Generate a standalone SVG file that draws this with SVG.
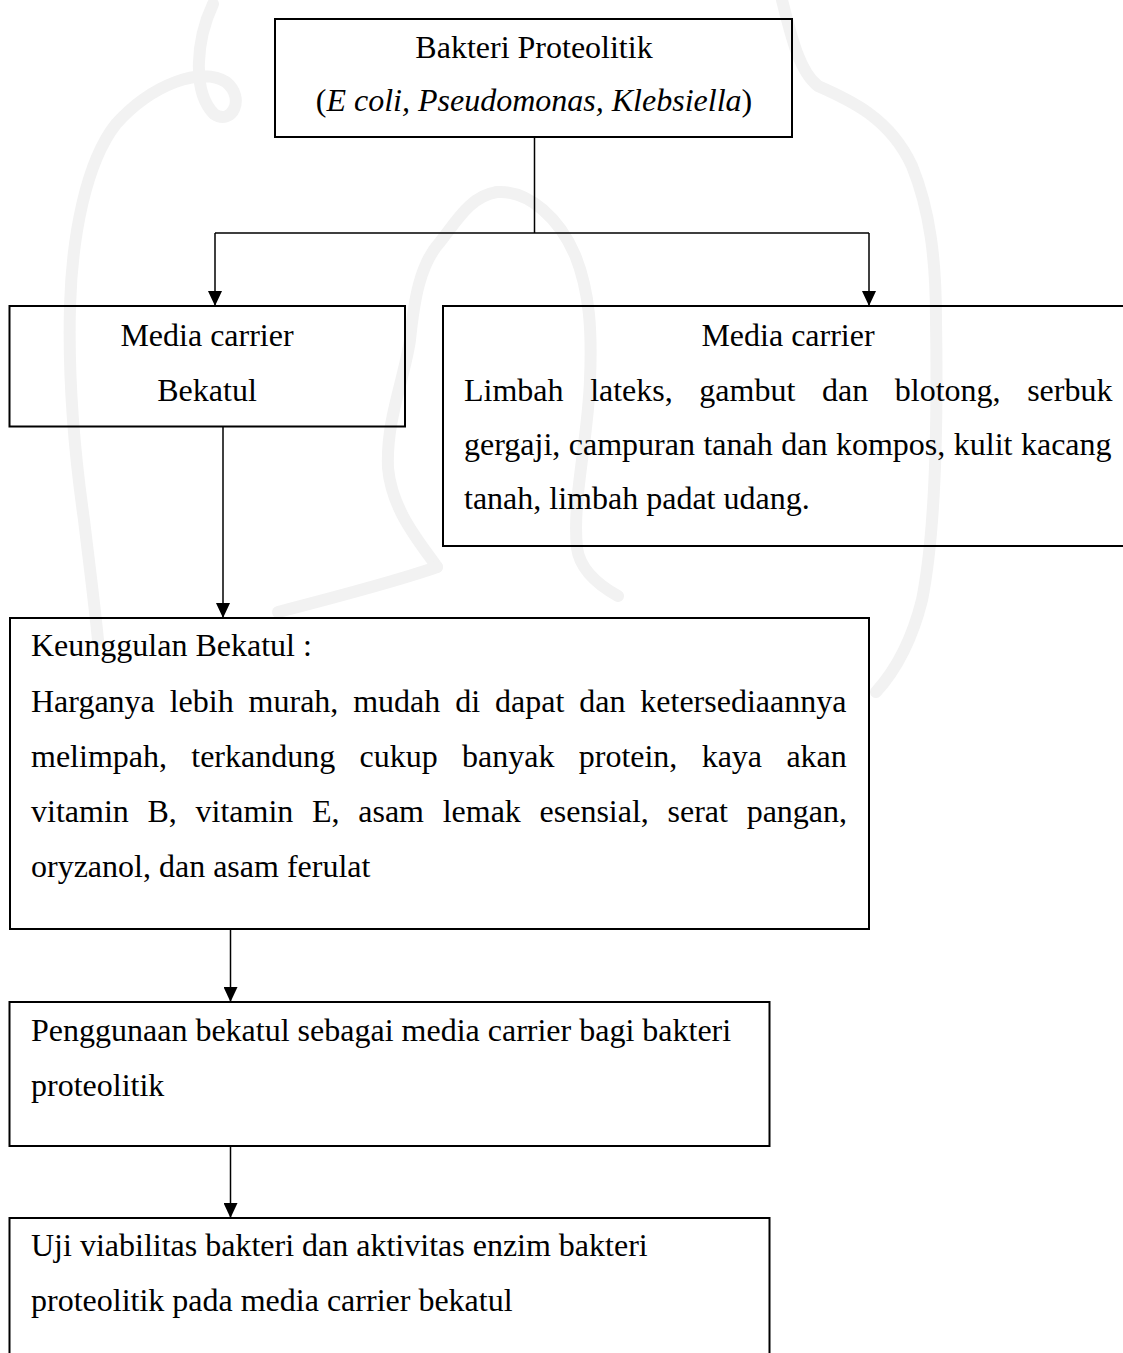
<svg xmlns="http://www.w3.org/2000/svg" width="1123" height="1353" viewBox="0 0 1123 1353">
  <defs>
    <marker id="arrow" viewBox="0 0 14 15" refX="7" refY="15" markerWidth="14" markerHeight="15" markerUnits="userSpaceOnUse" orient="0">
      <path d="M0,0 L14,0 L7,15 Z" fill="#000"/>
    </marker>
    <style>
      .box { fill: none; stroke: #000; stroke-width: 2; }
      .link { fill: none; stroke: #000; stroke-width: 1.5; }
      .txt { font-family: "Liberation Serif", "Times New Roman", serif; font-size: 32px; fill: #000; }
      .mid { text-anchor: middle; }
      .wm { fill: none; stroke: #f2f2f2; stroke-width: 12; stroke-linecap: round; stroke-linejoin: round; }
    </style>
  </defs>

  <rect width="1123" height="1353" fill="#fff"/>

  <!-- faint background emblem -->
  <g id="watermark">
    <!-- outer outline, left side with its top curl -->
    <path class="wm" d="M213 4 C196 40 192 92 214 114 C232 126 246 98 226 82 C202 66 152 84 116 124 C86 162 72 236 70 306 C68 380 74 450 84 520 C90 570 94 600 98 640"/>
    <!-- outer outline, right side -->
    <path class="wm" d="M782 0 C792 40 800 72 818 86 C850 100 890 118 912 166 C930 210 936 260 936 320 C938 440 934 540 922 600 C912 640 896 670 876 692"/>
    <!-- inner figure -->
    <path class="wm" d="M497 192 C470 196 456 222 440 242 C420 264 414 300 410 340 C404 380 386 420 388 468 C392 510 418 540 437 567"/>
    <path class="wm" d="M497 192 C530 190 560 220 575 255 C590 292 592 332 590 380 C588 440 572 500 577 548 C580 570 600 586 618 596"/>
    <path class="wm" d="M437 567 C400 580 340 596 278 612"/>
  </g>

  <!-- connectors -->
  <g id="connectors">
    <path class="link" d="M534.5 137 V233 M215 233 H869"/>
    <path class="link" d="M215 233 V306" marker-end="url(#arrow)"/>
    <path class="link" d="M869 233 V306" marker-end="url(#arrow)"/>
    <path class="link" d="M223 427 V618" marker-end="url(#arrow)"/>
    <path class="link" d="M230.5 930 V1002" marker-end="url(#arrow)"/>
    <path class="link" d="M230.5 1146 V1218" marker-end="url(#arrow)"/>
  </g>

  <!-- source organisms -->
  <g id="node-bakteri">
    <rect class="box" x="275" y="19" width="517" height="118"/>
    <text class="txt mid" x="534" y="58">Bakteri Proteolitik</text>
    <text class="txt mid" x="534" y="111">(<tspan font-style="italic">E coli, Pseudomonas, Klebsiella</tspan>)</text>
  </g>

  <!-- chosen carrier -->
  <g id="node-bekatul">
    <rect class="box" x="9.5" y="306" width="395.5" height="120.5"/>
    <text class="txt mid" x="207" y="346">Media carrier</text>
    <text class="txt mid" x="207" y="401">Bekatul</text>
  </g>

  <!-- other carriers -->
  <g id="node-carrier-lain">
    <rect class="box" x="443" y="306" width="700" height="240"/>
    <text class="txt mid" x="788" y="346">Media carrier</text>
    <text class="txt" x="464" y="401" word-spacing="18.6">Limbah lateks, gambut dan blotong, serbuk</text>
    <text class="txt" x="464" y="455" word-spacing="0.5">gergaji, campuran tanah dan kompos, kulit kacang</text>
    <text class="txt" x="464" y="509">tanah, limbah padat udang.</text>
  </g>

  <!-- advantages -->
  <g id="node-keunggulan">
    <rect class="box" x="10" y="618" width="859" height="311"/>
    <text class="txt" x="31" y="656">Keunggulan Bekatul :</text>
    <text class="txt" x="31" y="712" word-spacing="6.9">Harganya lebih murah, mudah di dapat dan ketersediaannya</text>
    <text class="txt" x="31" y="767" word-spacing="16.3">melimpah, terkandung cukup banyak protein, kaya akan</text>
    <text class="txt" x="31" y="822" word-spacing="10.7">vitamin B, vitamin E, asam lemak esensial, serat pangan,</text>
    <text class="txt" x="31" y="877">oryzanol, dan asam ferulat</text>
  </g>

  <!-- use of bran -->
  <g id="node-penggunaan">
    <rect class="box" x="9.5" y="1002" width="760" height="144"/>
    <text class="txt" x="31" y="1041">Penggunaan bekatul sebagai media carrier bagi bakteri</text>
    <text class="txt" x="31" y="1096">proteolitik</text>
  </g>

  <!-- test -->
  <g id="node-uji">
    <rect class="box" x="9.5" y="1218" width="760" height="160"/>
    <text class="txt" x="31" y="1256">Uji viabilitas bakteri dan aktivitas enzim bakteri</text>
    <text class="txt" x="31" y="1311">proteolitik pada media carrier bekatul</text>
  </g>
</svg>
